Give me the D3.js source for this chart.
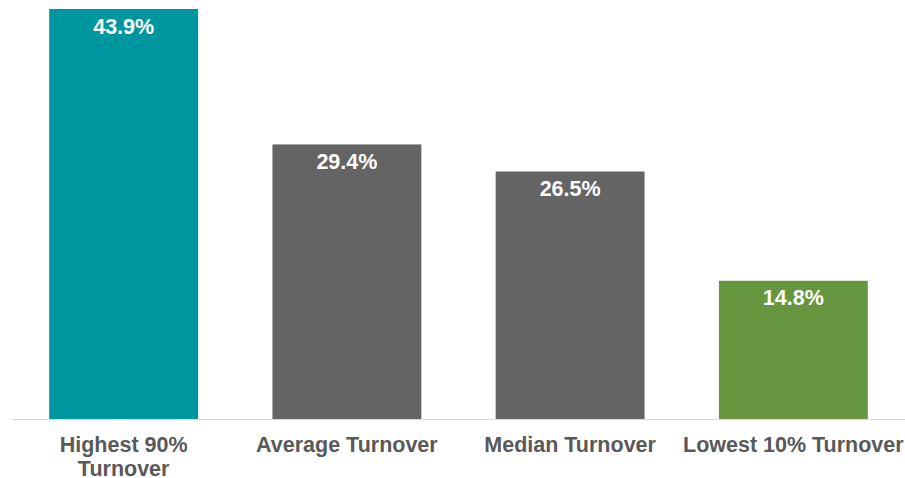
<!DOCTYPE html>
<html>
<head>
<meta charset="utf-8">
<script src="https://cdn.jsdelivr.net/npm/d3@7/dist/d3.min.js"></script>
<style>
  html, body { margin: 0; padding: 0; background: #fff; }
  svg { display: block; }
</style>
</head>
<body>
<svg id="chart" width="905" height="478"></svg>
<script>
// Portfolio turnover comparison
const categories = [["Highest 90%", "Turnover"], ["Average Turnover"], ["Median Turnover"], ["Lowest 10% Turnover"]];
const values = [43.9, 29.4, 26.5, 14.8];
const colors = ["#0096a0", "#646464", "#646464", "#679640"];

const width = 905, height = 478;
const baseY = 419;
const svg = d3.select("#chart");

const x = d3.scaleBand()
  .domain(d3.range(values.length))
  .range([12, 905])
  .paddingInner(0.333)
  .paddingOuter(0.1667);

const y = d3.scaleLinear()
  .domain([0, 43.9])
  .range([baseY, 9]);

// baseline
svg.append("line")
  .attr("x1", 12).attr("x2", 905)
  .attr("y1", baseY + 0.5).attr("y2", baseY + 0.5)
  .attr("stroke", "#d9d9d9").attr("stroke-width", 1);

// bars
svg.selectAll("rect.bar")
  .data(values)
  .join("rect")
  .attr("class", "bar")
  .attr("x", (d, i) => x(i))
  .attr("y", d => y(d))
  .attr("width", x.bandwidth())
  .attr("height", d => baseY - y(d))
  .attr("fill", (d, i) => colors[i]);

// value labels inside bar tops
svg.selectAll("text.val")
  .data(values)
  .join("text")
  .attr("class", "val")
  .attr("x", (d, i) => x(i) + x.bandwidth() / 2)
  .attr("y", d => y(d) + 24.5)
  .attr("text-anchor", "middle")
  .attr("fill", "#fff")
  .style("font-family", "'Liberation Sans', Arial, sans-serif")
  .style("font-weight", "bold")
  .style("font-size", "21.5px")
  .text(d => d.toFixed(1) + "%");

// category labels, one text element per line
const lineRows = [];
categories.forEach((lines, i) => lines.forEach((ln, j) => lineRows.push({ i, j, ln })));

svg.selectAll("text.cat")
  .data(lineRows)
  .join("text")
  .attr("class", "cat")
  .attr("x", d => x(d.i) + x.bandwidth() / 2)
  .attr("y", d => 452 + d.j * 23.5)
  .attr("text-anchor", "middle")
  .attr("fill", "#595959")
  .style("font-family", "'Liberation Sans', Arial, sans-serif")
  .style("font-weight", "bold")
  .style("font-size", "21.5px")
  .text(d => d.ln);
</script>
</body>
</html>
